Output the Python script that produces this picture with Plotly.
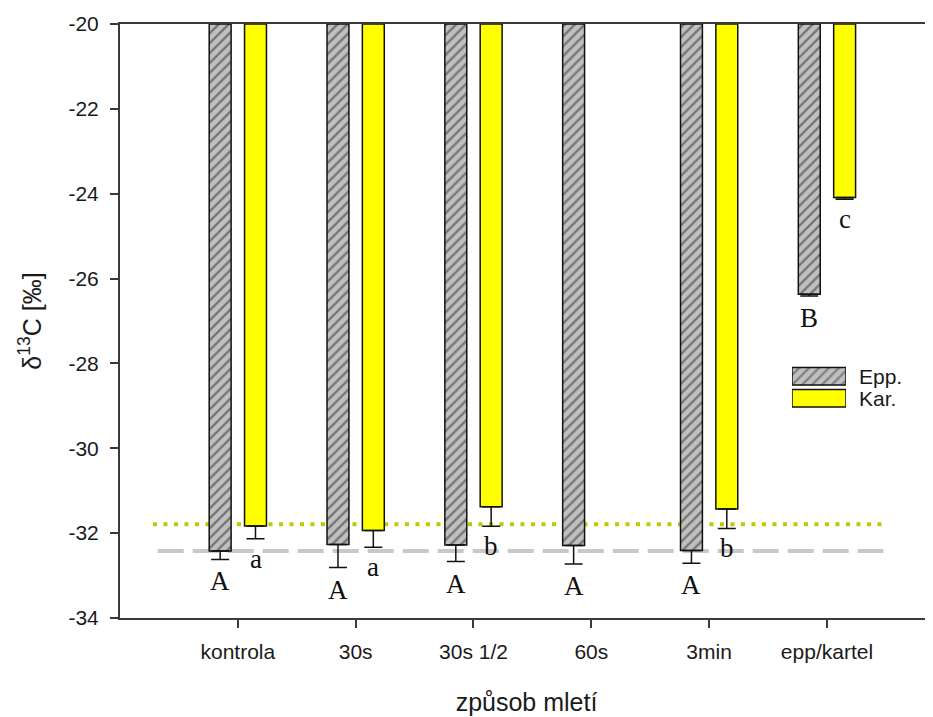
import plotly.graph_objects as go

# ---- data ----
categories = ["kontrola", "30s", "30s 1/2", "60s", "3min", "epp/kartel"]
epp_values = [-32.42, -32.27, -32.28, -32.29, -32.41, -26.37]
epp_err = [0.20, 0.54, 0.39, 0.44, 0.30, 0.04]
kar_values = [-31.83, -31.94, -31.38, None, -31.43, -24.09]
kar_err = [0.30, 0.39, 0.46, None, 0.46, 0.04]
epp_letters = ["A", "A", "A", "A", "A", "B"]
kar_letters = ["a", "a", "b", "", "b", "c"]
ref_kar = -31.79   # dotted reference
ref_epp = -32.42   # dashed reference
bar_top = -20
y_ticks = [-34, -32, -30, -28, -26, -24, -22, -20]
y_tick_labels = ["-34", "-32", "-30", "-28", "-26", "-24", "-22", "-20"]
legend_names = ["Kar.", "Epp."]

# ---- layout geometry (page body adds an 8px offset) ----
OFF = 8
W, H = 933, 717
ML, MT = 120 - OFF, 23.5 - OFF
MR = OFF
MB = H - (618 - OFF)
x_range = [-1, 5.9]
bargap = 0.4
bargroupgap = 0.38
plot_w = W - ML - MR
plot_h = H - MT - MB
px_per_unit = plot_w / (x_range[1] - x_range[0])
group_offset_px = (1 - bargap) / 4 * px_per_unit

AX = "#3a3a3a"
FONT = "Liberation Sans, Arial, sans-serif"
SERIF = "Liberation Serif, Times New Roman, serif"

hatch = dict(shape="/", bgcolor="#c0c0c0", fgcolor="#2a2a2a", size=7, solidity=0.33)

fig = go.Figure()

fig.add_trace(go.Bar(
    x=categories, y=[v - bar_top for v in epp_values], base=bar_top,
    name="Epp.", marker=dict(pattern=hatch, color="#c0c0c0",
                             line=dict(color="#111111", width=1.5)),
    error_y=dict(type="data", symmetric=False, array=[0] * len(epp_err),
                 arrayminus=epp_err, color="#111111", thickness=1.5, width=9),
    showlegend=False,
))
fig.add_trace(go.Bar(
    x=categories, y=[(v - bar_top) if v is not None else None for v in kar_values],
    base=bar_top, name="Kar.",
    marker=dict(color="#ffff00", line=dict(color="#111111", width=1.5)),
    error_y=dict(type="data", symmetric=False, array=[0] * len(kar_err),
                 arrayminus=[e if e is not None else 0 for e in kar_err],
                 color="#111111", thickness=1.5, width=9),
    showlegend=False,
))

# reference lines
fig.add_shape(type="line", xref="x", yref="y", x0=-0.68, x1=5.48, y0=ref_epp, y1=ref_epp,
              line=dict(color="#c8c8c8", width=4, dash="26px,9px"), layer="below")
fig.add_shape(type="line", xref="x", yref="y", x0=-0.72, x1=5.48, y0=ref_kar, y1=ref_kar,
              line=dict(color="#bccb00", width=4, dash="4px,6.5px"), layer="below")

# significance letters
for i, c in enumerate(categories):
    if epp_values[i] is not None and epp_letters[i]:
        fig.add_annotation(x=c, y=epp_values[i] - epp_err[i], xref="x", yref="y",
                           text=epp_letters[i], showarrow=False, xshift=-group_offset_px,
                           yshift=-22, yanchor="middle",
                           font=dict(family=SERIF, size=27, color="#111111"))
    if kar_values[i] is not None and kar_letters[i]:
        fig.add_annotation(x=c, y=kar_values[i] - kar_err[i], xref="x", yref="y",
                           text=kar_letters[i], showarrow=False, xshift=group_offset_px,
                           yshift=-20, yanchor="middle",
                           font=dict(family=SERIF, size=27, color="#111111"))

# custom legend via inset axes
fig.add_trace(go.Bar(
    y=legend_names, x=[1, 1], orientation="h", xaxis="x2", yaxis="y2", width=0.8,
    marker=dict(color=["#ffff00", "#c0c0c0"],
                pattern=dict(shape=["", "/"], bgcolor="#c0c0c0", fgcolor="#2a2a2a",
                             size=7, solidity=0.33),
                line=dict(color="#111111", width=1.5)),
    showlegend=False, hoverinfo="skip",
))

leg_x0, leg_x1 = 792 - OFF - ML, 846 - OFF - ML
leg_top, leg_bot = 365 - OFF, 409 - OFF
plot_bottom = H - MB

fig.update_layout(
    width=W, height=H,
    margin=dict(l=ML, r=MR, t=MT, b=MB, pad=0, autoexpand=False),
    paper_bgcolor="white", plot_bgcolor="white",
    barmode="group", bargap=bargap, bargroupgap=bargroupgap,
    font=dict(family=FONT, size=21, color="#1a1a1a"),
    xaxis=dict(type="category", range=x_range, showgrid=False, zeroline=False,
               automargin=False,
               showline=True, linecolor=AX, linewidth=2, mirror=True,
               ticks="outside", ticklen=8, tickwidth=2, tickcolor=AX,
               tickfont=dict(size=21), ticklabelstandoff=6,
               title=dict(text="způsob mletí", font=dict(size=25), standoff=31)),
    yaxis=dict(range=[-34, -20], tickmode="array", tickvals=y_ticks, ticktext=y_tick_labels,
               showgrid=False, zeroline=False, automargin=False,
               showline=True, linecolor=AX, linewidth=2,
               ticks="outside", ticklen=8, tickwidth=2, tickcolor=AX,
               tickfont=dict(size=21), ticklabelstandoff=7,
               title=dict(text="δ<sup>13</sup>C [‰]", font=dict(size=25), standoff=20)),
    xaxis2=dict(domain=[leg_x0 / plot_w, leg_x1 / plot_w], range=[0, 1],
                anchor="y2", visible=False, fixedrange=True, automargin=False),
    yaxis2=dict(domain=[(plot_bottom - leg_bot) / plot_h, (plot_bottom - leg_top) / plot_h],
                anchor="x2", side="right", automargin=False,
                showgrid=False, zeroline=False, showline=False, ticks="",
                tickmode="array", tickvals=legend_names, ticktext=legend_names,
                tickfont=dict(size=21), ticklabelstandoff=12, fixedrange=True,
                categoryorder="array", categoryarray=legend_names),
)

fig.write_html("out.html")
